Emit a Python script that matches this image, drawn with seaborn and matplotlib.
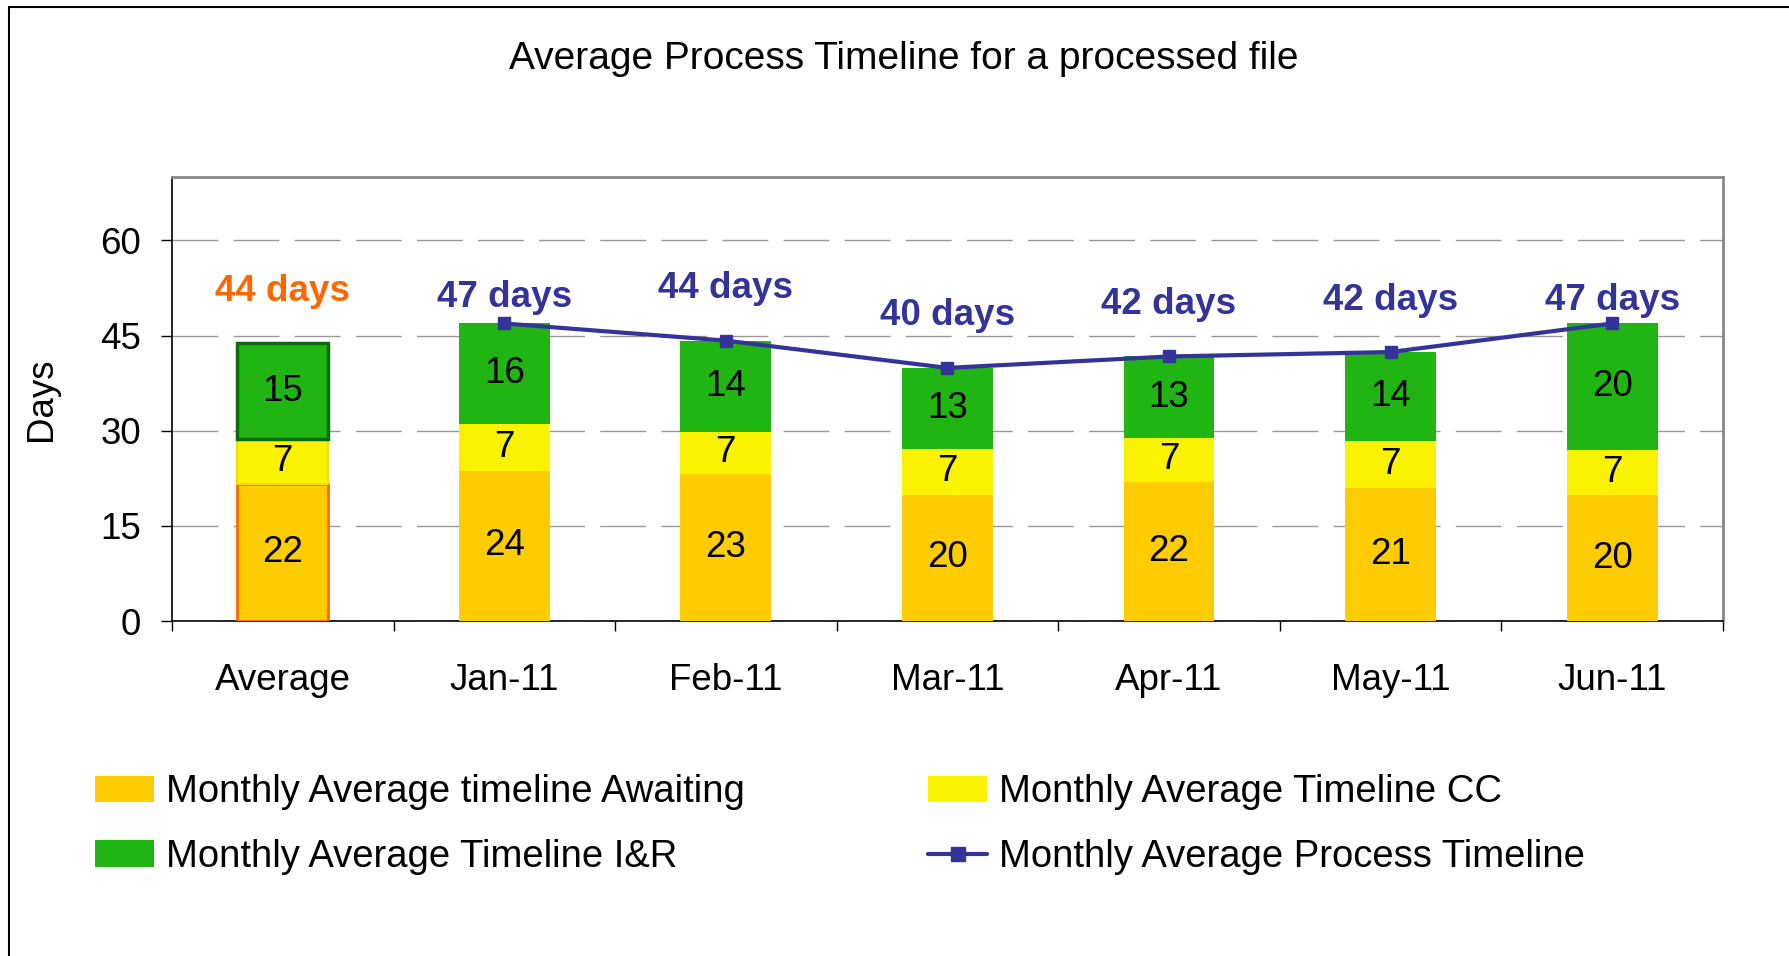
import numpy as np
import pandas as pd
import matplotlib
matplotlib.use("Agg")
import matplotlib.pyplot as plt
from matplotlib.lines import Line2D
from matplotlib.patches import Patch
import seaborn as sns

# datos
categories = ["Average", "Jan-11", "Feb-11", "Mar-11", "Apr-11", "May-11", "Jun-11"]
awaiting = [21.6, 23.7, 23.2, 19.9, 21.9, 21.0, 19.8]
cc = [7.1, 7.3, 6.6, 7.2, 7.0, 7.3, 7.1]
inr = [15.1, 15.9, 14.4, 12.8, 12.8, 14.1, 20.0]

df = pd.DataFrame({"cat": categories, "awaiting": awaiting, "cc": cc, "inr": inr})
df["base_inr"] = df["awaiting"] + df["cc"]
df["total"] = df["base_inr"] + df["inr"]

c_await = "#FFCC00"
c_cc = "#FBF200"
c_inr = "#21B514"
c_line = "#333399"
c_avg = "#FF6600"

sns.set_theme(style="white")
plt.rcParams["font.family"] = ["Liberation Sans", "DejaVu Sans"]
plt.rcParams["text.color"] = "black"
plt.rcParams["axes.labelcolor"] = "black"
plt.rcParams["xtick.color"] = "black"
plt.rcParams["ytick.color"] = "black"

fs = 26.5

fig = plt.figure(figsize=(17.89, 9.56), dpi=100)
ax = fig.add_axes([0.0961, 0.3504, 0.9631 - 0.0961, 0.8149 - 0.3504])

bw = 0.41
sns.barplot(data=df, x="cat", y="awaiting", color=c_await, width=bw, ax=ax,
            saturation=1, linewidth=0, zorder=3)
sns.barplot(data=df, x="cat", y="cc", color=c_cc, width=bw, ax=ax,
            saturation=1, linewidth=0, bottom=df["awaiting"].values, zorder=3)
sns.barplot(data=df, x="cat", y="inr", color=c_inr, width=bw, ax=ax,
            saturation=1, linewidth=0, bottom=df["base_inr"].values, zorder=3)

n = len(categories)
patches = ax.patches
# borde de la barra promedio
patches[0].set_edgecolor(c_avg)
patches[0].set_linewidth(2)
patches[n].set_edgecolor("#F5DC00")
patches[n].set_linewidth(1.5)
patches[2 * n].set_edgecolor("#0B6B10")
patches[2 * n].set_linewidth(2.5)

# linea del total mensual (sin el promedio)
x = np.arange(n)
ax.plot(x[1:], df["total"].values[1:], color=c_line, lw=3, marker="s",
        markersize=9, zorder=5)

# etiquetas dentro de las barras
label_dy = [8.2, 4.1, 8.2, 8.2, 8.2, 8.2, 3.6]
for i in range(n):
    ax.text(i, df["awaiting"][i] / 2, "%.0f" % df["awaiting"][i], ha="center",
            va="center", fontsize=fs, zorder=6)
    ax.text(i, df["awaiting"][i] + df["cc"][i] / 2, "%.0f" % df["cc"][i],
            ha="center", va="center", fontsize=fs, zorder=6)
    ax.text(i, df["base_inr"][i] + df["inr"][i] / 2, "%.0f" % df["inr"][i],
            ha="center", va="center", fontsize=fs, zorder=6)
    col = c_avg if i == 0 else c_line
    ax.text(i, df["total"][i] + label_dy[i], "%.0f days" % df["total"][i],
            ha="center", va="center", fontsize=fs, fontweight="bold",
            color=col, zorder=6)

ax.set_xlim(-0.5, n - 0.5)
ax.set_ylim(0, 70)
ax.set_yticks([0, 15, 30, 45, 60])
ax.set_xticks(x)
ax.set_xticks(np.arange(n + 1) - 0.5, minor=True)
ax.set_xticklabels(categories, fontsize=fs)
ax.tick_params(axis="y", labelsize=fs, length=8, width=1, direction="out",
               left=True, pad=14)
ax.tick_params(axis="x", which="major", length=0, pad=30)
ax.tick_params(axis="x", which="minor", length=7, width=1, direction="out",
               bottom=True)
ax.set_xlabel("")
ax.set_ylabel("Days", fontsize=fs, labelpad=30)
ax.yaxis.grid(True, color="#999999", lw=1, linestyle=(0, (33, 11)), zorder=0)
ax.set_axisbelow(True)

for s in ["top", "right"]:
    ax.spines[s].set_color("#888888")
    ax.spines[s].set_linewidth(2)
for s in ["left", "bottom"]:
    ax.spines[s].set_color("black")
    ax.spines[s].set_linewidth(1.2)

fig.text(0.505, 0.938, "Average Process Timeline for a processed file",
         ha="center", va="center", fontsize=28)

handles = [
    Patch(facecolor=c_await, edgecolor="none"),
    Patch(facecolor=c_inr, edgecolor="none"),
    Patch(facecolor=c_cc, edgecolor="none"),
    Line2D([], [], color=c_line, lw=3, marker="s", markersize=10),
]
labels = [
    "Monthly Average timeline Awaiting",
    "Monthly Average Timeline I&R",
    "Monthly Average Timeline CC",
    "Monthly Average Process Timeline",
]
fig.legend(handles, labels, ncol=2, loc="upper left",
           bbox_to_anchor=(0.034, 0.226), fontsize=27.5, frameon=False,
           handlelength=1.55, handleheight=0.7, handletextpad=0.3,
           columnspacing=4.8, labelspacing=0.75)

# borde de la figura
fig.add_artist(Line2D([9 / 1789, 1], [1 - 7 / 956, 1 - 7 / 956],
                      color="black", lw=1.5, transform=fig.transFigure))
fig.add_artist(Line2D([9 / 1789, 9 / 1789], [0, 1 - 7 / 956],
                      color="black", lw=1.5, transform=fig.transFigure))

fig.savefig("out.png", dpi=100, facecolor="white")
